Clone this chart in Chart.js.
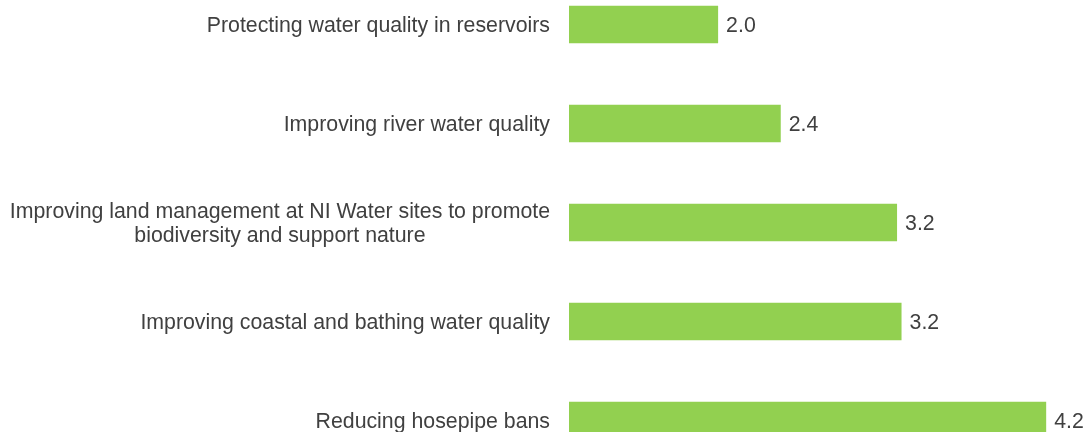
<!DOCTYPE html>
<html>
<head>
<meta charset="utf-8">
<script src="https://cdn.jsdelivr.net/npm/chart.js@4/dist/chart.umd.min.js"></script>
<style>
  html, body { margin: 0; padding: 0; background: #ffffff; overflow: hidden; }
  #wrap { position: relative; width: 1088px; height: 432px; overflow: hidden; }
  #c { position: absolute; left: 0; top: -25px; }
</style>
</head>
<body>
<div id="wrap"><canvas id="c" width="1088" height="495"></canvas></div>
<script>
const categories = [
  ["Protecting water quality in reservoirs"],
  ["Improving river water quality"],
  ["Improving land management at NI Water sites to promote", "biodiversity and support nature"],
  ["Improving coastal and bathing water quality"],
  ["Reducing hosepipe bans"]
];
const values = [2.0, 2.42, 3.2, 3.23, 4.2];
const axisMin = 1;
const axisMax = 4.4;

const FONT = '"Liberation Sans", Arial, sans-serif';
const TEXT_COLOR = '#404040';

const labelPlugin = {
  id: 'customLabels',
  afterDraw(chart) {
    const ctx = chart.ctx;
    const yScale = chart.scales.y;
    ctx.save();
    ctx.font = '21.3px ' + FONT;
    ctx.fillStyle = TEXT_COLOR;
    ctx.textBaseline = 'middle';
    const rightX = 550;
    const lineH = 24;
    categories.forEach((lines, i) => {
      const cy = yScale.getPixelForTick(i) + 2;
      const widths = lines.map(l => ctx.measureText(l).width);
      const maxW = Math.max(...widths);
      const blockCenter = rightX - maxW / 2;
      const startY = cy - (lines.length - 1) * lineH / 2;
      lines.forEach((l, j) => {
        ctx.textAlign = 'center';
        ctx.fillText(l, blockCenter, startY + j * lineH);
      });
    });
    const meta = chart.getDatasetMeta(0);
    ctx.textAlign = 'left';
    meta.data.forEach((bar, i) => {
      ctx.fillText(values[i].toFixed(1), bar.x + 8, bar.y + 2);
    });
    ctx.restore();
  }
};

new Chart(document.getElementById('c'), {
  type: 'bar',
  data: {
    labels: categories,
    datasets: [{
      data: values,
      backgroundColor: '#92D050',
      borderWidth: 0,
      categoryPercentage: 1,
      barPercentage: 0.38
    }]
  },
  options: {
    indexAxis: 'y',
    responsive: false,
    animation: false,
    layout: { padding: { left: 0, right: 12, top: 0, bottom: 0 } },
    plugins: { legend: { display: false }, tooltip: { enabled: false } },
    scales: {
      x: {
        display: false,
        min: axisMin,
        max: axisMax
      },
      y: {
        grid: { display: false, drawBorder: false },
        border: { display: false },
        ticks: { display: false },
        afterFit(scale) { scale.width = 569; }
      }
    }
  },
  plugins: [labelPlugin]
});
</script>
</body>
</html>
